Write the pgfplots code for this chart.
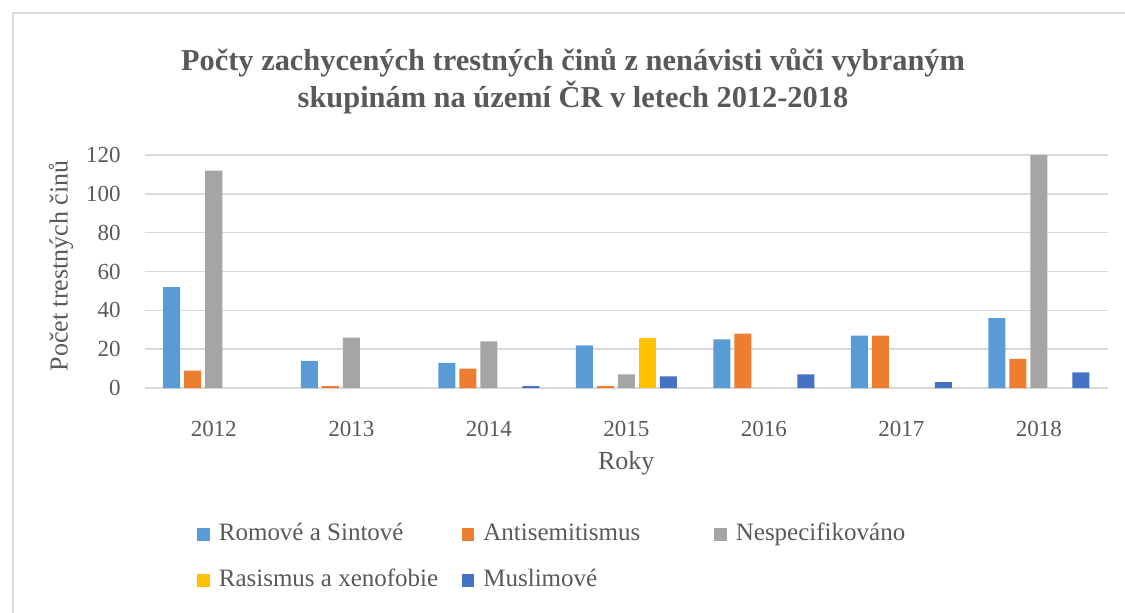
\documentclass[border=0pt]{standalone}
\usepackage{fontspec}
\setmainfont{Liberation Serif}
\usepackage{pgfplots}
\pgfplotsset{compat=1.18}
\definecolor{txt}{HTML}{595959}
\definecolor{gridc}{HTML}{D9D9D9}
\definecolor{cA}{HTML}{5B9BD5}
\definecolor{cB}{HTML}{ED7D31}
\definecolor{cC}{HTML}{A5A5A5}
\definecolor{cD}{HTML}{FFC000}
\definecolor{cE}{HTML}{4472C4}
\begin{document}
\begin{tikzpicture}
\useasboundingbox (0,0) rectangle (562.5pt,306pt);
\draw[gridc, line width=0.75pt] (6.5pt,-10pt) rectangle (575pt,299.5pt);
\begin{axis}[
  at={(72.5pt,112pt)}, anchor=south west,
  scale only axis, width=481.25pt, height=116.5pt,
  xmin=-0.5, xmax=6.5, ymin=0, ymax=120,
  ybar=2pt, bar width=8.5pt,
  xtick={0,1,2,3,4,5,6},
  xticklabels={2012,2013,2014,2015,2016,2017,2018},
  ytick={0,20,40,60,80,100,120},
  ymajorgrids, grid style={gridc, line width=0.75pt},
  axis line style={draw=none}, tick style={draw=none},
  /pgf/number format/assume math mode=true,
  tick label style={font=\rmfamily\fontsize{11.5}{13}\selectfont, text=txt},
  yticklabel style={inner sep=0pt, xshift=-12pt},
  xticklabel style={anchor=base, inner sep=0pt, yshift=-20pt},
  title={Počty zachycených trestných činů z nenávisti vůči vybraným\\skupinám na území ČR v letech 2012-2018},
  title style={at={(axis description cs:0.4447,1.266)}, anchor=center, align=center,
    font=\rmfamily\fontsize{15.2}{18.5}\selectfont\bfseries, text=txt},
  xlabel={Roky},
  xlabel style={at={(axis description cs:0.5,-0.322)}, anchor=center,
    font=\rmfamily\fontsize{13}{15}\selectfont, text=txt},
  ylabel={Počet trestných činů},
  ylabel style={at={(axis description cs:-0.0873,0.5236)}, anchor=center,
    font=\rmfamily\fontsize{13}{15}\selectfont, text=txt},
  legend columns=3,
  legend cell align=left,
  legend image code/.code={\fill[#1] (0pt,-3.1pt) rectangle (6.25pt,3.1pt);},
  legend style={at={(axis description cs:0.054,-0.579)}, anchor=north west,
    draw=none, fill=none, inner sep=0pt, row sep=12pt, column sep=0pt,
    font=\rmfamily\fontsize{12.5}{14}\selectfont, text=txt,
    nodes={inner sep=0pt, text height=8.5pt, text depth=2.5pt}},
]
\addplot[fill=cA, draw=none] coordinates {(0,52) (1,14) (2,13) (3,22) (4,25) (5,27) (6,36)};
\addlegendentry{\hspace{4.5pt}\makebox[121.5pt][l]{Romové a Sintové}}
\addplot[fill=cB, draw=none] coordinates {(0,9) (1,1) (2,10) (3,1) (4,28) (5,27) (6,15)};
\addlegendentry{\hspace{4.5pt}\makebox[115.5pt][l]{Antisemitismus}}
\addplot[fill=cC, draw=none] coordinates {(0,112) (1,26) (2,24) (3,7) (6,120)};
\addlegendentry{\hspace{4.5pt}Nespecifikováno}
\addplot[fill=cD, draw=none] coordinates {(3,26)};
\addlegendentry{\hspace{4.5pt}\makebox[121.5pt][l]{Rasismus a xenofobie}}
\addplot[fill=cE, draw=none] coordinates {(2,1) (3,6) (4,7) (5,3) (6,8)};
\addlegendentry{\hspace{4.5pt}\makebox[115.5pt][l]{Muslimové}}
\end{axis}
\end{tikzpicture}
\end{document}
